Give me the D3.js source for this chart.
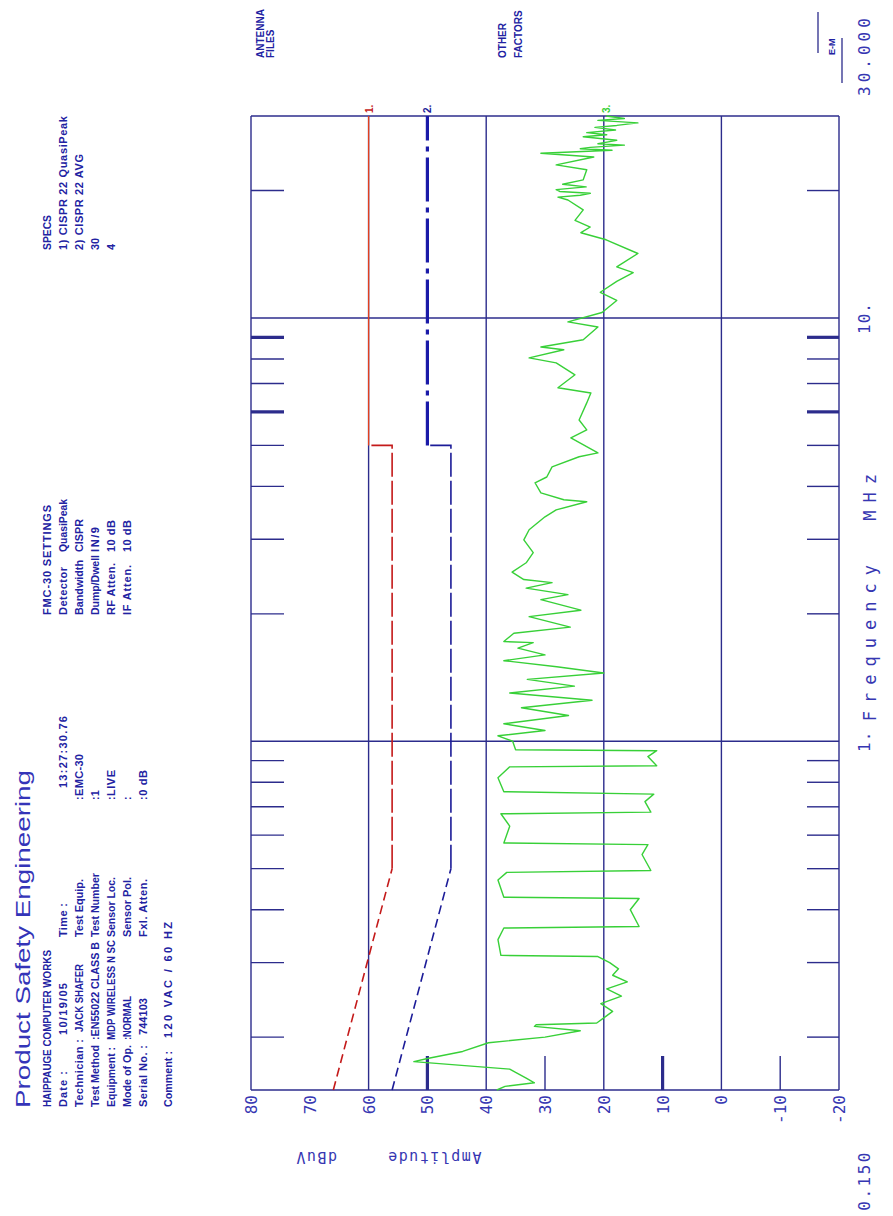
<!DOCTYPE html>
<html>
<head>
<meta charset="utf-8">
<script src="https://cdn.jsdelivr.net/npm/d3@7"></script>
<style>
  html, body { margin: 0; padding: 0; background: #ffffff; }
  svg { display: block; }
</style>
</head>
<body>
<svg id="chart" width="893" height="1216"></svg>
<script>
// ---- data -----------------------------------------------------------------
const freqDomain = [0.15, 30];          // MHz
const ampDomain = [80, -20];            // dBuV
const freqGrid = [1, 10];
const freqMinorTicks = [0.2, 0.3, 0.4, 0.5, 0.6, 0.7, 0.8, 0.9, 2, 3, 4, 5, 6, 7, 8, 9, 20];
const freqHeavyTicks = [6, 9];
const freqTickValues = [0.15, 1, 10, 30];
const freqTickLabels = ["0.150", "1.", "10.", "30.000"];
const ampGrid = [80, 60, 40, 20, 0, -20];
const ampTickValues = [80, 70, 60, 50, 40, 30, 20, 10, 0, -10, -20];
const ampMinorTicks = [50, 30, 10, -10];
const ampHeavyTicks = [50, 10];

// CISPR 22 class B limits
const qpLimitFreq = [0.15, 0.5, 5, 5, 30];
const qpLimitDb   = [66, 56, 56, 60, 60];
const avLimitFreq = [0.15, 0.5, 5, 5, 30];
const avLimitDb   = [56, 46, 46, 50, 50];

// measured peak scan
const scanFreq = [
  0.150, 0.153, 0.156, 0.160, 0.165, 0.168, 0.171, 0.175, 0.178, 0.185,
  0.194, 0.200, 0.207, 0.212, 0.214, 0.216, 0.222, 0.230, 0.240, 0.250,
  0.260, 0.270, 0.280, 0.290, 0.300, 0.310, 0.312, 0.340, 0.362, 0.365,
  0.400, 0.425, 0.428, 0.470, 0.490, 0.495, 0.540, 0.570, 0.575, 0.630,
  0.674, 0.680, 0.720, 0.750, 0.760, 0.820, 0.870, 0.875, 0.920, 0.950,
  0.955, 1.00, 1.03, 1.06, 1.10, 1.15, 1.20, 1.25, 1.30, 1.35,
  1.40, 1.45, 1.50, 1.55, 1.60, 1.66, 1.71, 1.72, 1.80, 1.86,
  1.97, 2.04, 2.16, 2.22, 2.30, 2.37, 2.41, 2.51, 2.64, 2.79,
  2.99, 3.16, 3.39, 3.52, 3.68, 3.72, 3.86, 4.08, 4.21, 4.45,
  4.70, 4.80, 5.21, 5.44, 5.74, 6.30, 6.65, 6.84, 7.34, 7.83,
  8.05, 8.41, 8.54, 8.88, 9.52, 9.79, 10.3, 11.0, 11.5, 12.2,
  12.8, 13.2, 14.2, 15.3, 15.9, 16.4, 17.0, 18.0, 19.0, 19.3,
  19.5, 19.7, 19.9, 20.1, 20.4, 20.7, 21.2, 22.4, 23.0, 24.0,
  24.5, 24.9, 25.1, 25.3, 25.6, 25.8, 26.1, 26.3, 26.8, 27.1,
  27.4, 27.8, 28.2, 28.5, 28.9, 29.3, 29.6, 30.0
];
const scanDb = [
  38.2, 36.8, 31.8, 33.2, 35.0, 36.0, 43.1, 52.3, 50.0, 44.0,
  39.6, 30.0, 24.0, 31.8, 31.5, 21.2, 20.0, 18.5, 20.5, 17.0,
  19.5, 16.0, 18.5, 17.5, 19.0, 21.0, 37.5, 38.0, 37.0, 14.0,
  15.5, 14.0, 37.0, 38.0, 36.5, 12.0, 13.5, 12.5, 37.0, 36.0,
  37.5, 12.0, 13.0, 11.5, 37.0, 38.0, 36.0, 11.0, 12.5, 11.0,
  35.0, 35.5, 38.0, 30.0, 37.0, 26.0, 34.0, 22.0, 36.0, 25.0,
  33.0, 20.0, 28.0, 37.0, 30.0, 34.6, 32.0, 37.0, 35.3, 25.7,
  32.7, 23.9, 30.7, 26.1, 33.2, 28.8, 33.6, 35.6, 33.2, 32.0,
  33.6, 32.7, 30.0, 28.1, 22.9, 26.8, 30.7, 31.7, 29.7, 28.8,
  24.2, 21.0, 25.6, 22.9, 24.2, 22.9, 22.2, 27.8, 24.9, 28.1,
  32.7, 26.8, 30.7, 23.5, 21.0, 26.1, 20.3, 17.8, 20.6, 17.8,
  15.0, 17.8, 14.2, 19.6, 23.9, 22.3, 24.9, 23.5, 26.1, 27.8,
  24.0, 22.3, 27.5, 28.1, 23.0, 27.0, 23.5, 22.9, 28.1, 21.7,
  30.7, 18.6, 24.0, 22.3, 16.5, 21.0, 19.0, 17.8, 23.5, 19.5,
  22.9, 18.0, 21.5, 17.8, 14.2, 21.0, 16.5, 19.6
];

// header block: [row, column start, text, printed width]
const headerItems = [
  [0, 109, "HAIPPAUGE COMPUTER WORKS", 157], [0, 601, "FMC-30 SETTINGS", 110], [0, 966, "SPECS", 35],
  [1, 109, "Date :", 36], [1, 181, "10/19/05", 52], [1, 279, "Time :", 34], [1, 428, "13:27:30.76", 72],
  [1, 601, "Detector", 48], [1, 664, "QuasiPeak", 53], [1, 966, "1) CISPR 22 QuasiPeak", 134],
  [2, 109, "Technician :", 68], [2, 184, "JACK SHAFER", 68], [2, 279, "Test Equip.", 58], [2, 416, ":EMC-30", 46],
  [2, 601, "Bandwidth", 55], [2, 664, "CISPR", 33], [2, 966, "2) CISPR 22 AVG", 96],
  [3, 109, "Test Method", 62], [3, 176, ":EN55022 CLASS B", 98], [3, 279, "Test Number", 64], [3, 416, ":1", 10],
  [3, 601, "Dump/Dwell", 60], [3, 664, "IN/9", 25], [3, 966, "30", 12],
  [4, 109, "Equipment :", 60], [4, 176, "MDP WIRELESS N SC", 100], [4, 279, "Sensor Loc.", 60], [4, 416, ":LIVE", 30],
  [4, 601, "RF Atten.", 52], [4, 664, "10 dB", 32], [4, 966, "4", 6],
  [5, 109, "Mode of Op.", 62], [5, 176, ":NORMAL", 44], [5, 279, "Sensor Pol.", 60], [5, 416, ":", 3],
  [5, 601, "IF Atten.", 50], [5, 664, "10 dB", 32],
  [6, 109, "Serial No. :", 62], [6, 181, "744103", 37], [6, 279, "Fxl. Atten.", 58], [6, 416, ":0 dB", 30],
  [7, 109, "Comment :", 56], [7, 178, "120 VAC / 60 HZ", 116]
];
const headerRowBaseline = [51, 67, 83, 99, 115, 131, 147, 172];
const titleText = "Product Safety Engineering";

// ---- drawing --------------------------------------------------------------
const NAVY = "#2c2c8c";
const TEXT = "#2222a2";
const LABEL = "#3636b2";

const svg = d3.select("#chart");
svg.append("rect").attr("width", 893).attr("height", 1216).attr("fill", "#ffffff");

// the sheet is printed in landscape, turned a quarter turn
const g = svg.append("g").attr("transform", "translate(0,1216) rotate(-90)");

const x = d3.scaleLog().domain(freqDomain).range([126, 1100]);
const y = d3.scaleLinear().domain(ampDomain).range([251, 839]);

// grid: amplitude lines
g.append("g").selectAll("line").data(ampGrid).join("line")
  .attr("x1", x(freqDomain[0])).attr("x2", x(freqDomain[1]))
  .attr("y1", d => y(d)).attr("y2", d => y(d))
  .attr("stroke", NAVY).attr("stroke-width", 1.4);

// grid: frequency lines (plus the frame ends)
g.append("g").selectAll("line").data([freqDomain[0], ...freqGrid, freqDomain[1]]).join("line")
  .attr("x1", d => x(d)).attr("x2", d => x(d))
  .attr("y1", y(ampDomain[0])).attr("y2", y(ampDomain[1]))
  .attr("stroke", NAVY).attr("stroke-width", 1.4);

// short frequency ticks along both long sides of the frame
const ftick = g.append("g");
[[y(ampDomain[0]), y(ampDomain[0]) + 33], [y(ampDomain[1]) - 32, y(ampDomain[1])]].forEach(([a, b]) => {
  ftick.append("g").selectAll("line").data(freqMinorTicks).join("line")
    .attr("x1", d => x(d)).attr("x2", d => x(d))
    .attr("y1", a).attr("y2", b)
    .attr("stroke", NAVY)
    .attr("stroke-width", d => freqHeavyTicks.includes(d) ? 3.2 : 1.4);
});

// short amplitude ticks rising from the low-frequency edge
g.append("g").selectAll("line").data(ampMinorTicks).join("line")
  .attr("x1", x(freqDomain[0])).attr("x2", x(freqDomain[0]) + 34)
  .attr("y1", d => y(d)).attr("y2", d => y(d))
  .attr("stroke", NAVY)
  .attr("stroke-width", d => ampHeavyTicks.includes(d) ? 3.2 : 1.4);

// amplitude tick labels
const tickFont = "'DejaVu Sans Mono', monospace";
g.append("g").selectAll("text").data(ampTickValues).join("text")
  .attr("x", x(freqDomain[0]) - 5)
  .attr("y", d => y(d) + 6)
  .attr("text-anchor", "end")
  .attr("font-family", tickFont).attr("font-size", 16)
  .attr("fill", LABEL)
  .text(d => d);

// amplitude axis title, read along the axis
[["dBuV", 316], ["Amplitude", 434]].forEach(([s, c]) => {
  g.append("text")
    .attr("transform", `translate(64,${c}) rotate(-90)`)
    .attr("text-anchor", "middle")
    .attr("font-family", tickFont).attr("font-size", 15)
    .attr("letter-spacing", 1.5)
    .attr("fill", LABEL)
    .text(s);
});

// frequency tick labels
const fl = g.append("g").attr("font-family", tickFont).attr("font-size", 16).attr("fill", LABEL);
freqTickValues.forEach((v, i) => {
  let anchor = "middle", px = x(v), ls = 1;
  if (i === 0) { anchor = "end"; px = 66; ls = 2.5; }
  if (i === freqTickValues.length - 1) { anchor = "start"; px = x(v) + 20; ls = 4; }
  fl.append("text").attr("x", px).attr("y", 870)
    .attr("text-anchor", anchor)
    .attr("letter-spacing", ls)
    .text(freqTickLabels[i]);
});
g.append("text")
  .attr("x", x(1) + 20).attr("y", 876)
  .attr("font-family", tickFont).attr("font-size", 17)
  .attr("letter-spacing", 8)
  .attr("fill", LABEL)
  .attr("xml:space", "preserve")
  .text("Frequency  MHz");

// limit lines
const line = d3.line().x(d => x(d[0])).y(d => y(d[1]));
const seg = (fs, ds, i0, i1) => d3.range(i0, i1 + 1).map(i => [fs[i], ds[i]]);

// quasi-peak limit (1)
g.append("path").attr("d", line(seg(qpLimitFreq, qpLimitDb, 0, 1)))
  .attr("fill", "none").attr("stroke", "#c41a1a").attr("stroke-width", 1.6).attr("stroke-dasharray", "9,5");
g.append("path").attr("d", line(seg(qpLimitFreq, qpLimitDb, 1, 3)))
  .attr("fill", "none").attr("stroke", "#c41a1a").attr("stroke-width", 1.6).attr("stroke-dasharray", "24,4");
g.append("path").attr("d", line(seg(qpLimitFreq, qpLimitDb, 3, 4)))
  .attr("fill", "none").attr("stroke", "#e2401e").attr("stroke-width", 1.3);

// average limit (2)
g.append("path").attr("d", line(seg(avLimitFreq, avLimitDb, 0, 1)))
  .attr("fill", "none").attr("stroke", "#1c1c98").attr("stroke-width", 1.6).attr("stroke-dasharray", "9,5");
g.append("path").attr("d", line(seg(avLimitFreq, avLimitDb, 1, 3)))
  .attr("fill", "none").attr("stroke", "#1c1c98").attr("stroke-width", 1.6).attr("stroke-dasharray", "24,4");
g.append("path").attr("d", line(seg(avLimitFreq, avLimitDb, 3, 4)))
  .attr("fill", "none").attr("stroke", "#1a1aa8").attr("stroke-width", 3.2).attr("stroke-dasharray", "44,6,5,6");

// measured trace (3)
const scan = scanFreq.map((f, i) => [f, scanDb[i]]);
g.append("path").attr("d", line(scan))
  .attr("fill", "none").attr("stroke", "#38d038").attr("stroke-width", 1.4)
  .attr("stroke-linejoin", "round");

// trace markers at the high-frequency end
const markers = [
  { label: "1.", db: qpLimitDb[qpLimitDb.length - 1], color: "#c41a1a" },
  { label: "2.", db: avLimitDb[avLimitDb.length - 1], color: "#1c1c98" },
  { label: "3.", db: scanDb[scanDb.length - 1], color: "#38d038" }
];
g.append("g").selectAll("text").data(markers).join("text")
  .attr("x", x(freqDomain[1]) + 3).attr("y", d => y(d.db) + 4)
  .attr("font-family", "'Liberation Sans', sans-serif").attr("font-size", 10).attr("font-weight", "bold")
  .attr("fill", d => d.color)
  .text(d => d.label);

// title and header block
g.append("text").attr("x", 108).attr("y", 30)
  .attr("font-family", "'Liberation Sans', sans-serif").attr("font-size", 21)
  .attr("textLength", 338).attr("lengthAdjust", "spacingAndGlyphs")
  .attr("fill", "#3434b8").text(titleText);

const hdr = g.append("g")
  .attr("font-family", "'Liberation Sans Narrow', 'Liberation Sans', sans-serif")
  .attr("font-size", 11).attr("font-weight", "bold").attr("fill", TEXT);
headerItems.forEach(([r, u, s, w]) => {
  const t = hdr.append("text").attr("x", u).attr("y", headerRowBaseline[r]).text(s);
  if (s.length > 1) {
    // squeeze long entries, only open up the spacing of short ones
    const natural = t.node().getComputedTextLength();
    t.attr("textLength", w).attr("lengthAdjust", natural > w ? "spacingAndGlyphs" : "spacing");
  }
});

// side notes beyond the high-frequency end
const side = g.append("g")
  .attr("font-family", "'Liberation Sans Narrow', 'Liberation Sans', sans-serif")
  .attr("font-size", 10).attr("font-weight", "bold").attr("fill", TEXT);
side.append("text").attr("x", 1158).attr("y", 264).text("ANTENNA");
side.append("text").attr("x", 1158).attr("y", 274).text("FILES");
side.append("text").attr("x", 1158).attr("y", 506).text("OTHER");
side.append("text").attr("x", 1158).attr("y", 522).text("FACTORS");
side.append("text").attr("x", 1161).attr("y", 835).attr("font-size", 9).text("E-M");
side.append("line").attr("x1", 1163).attr("x2", 1204).attr("y1", 818).attr("y2", 818)
  .attr("stroke", NAVY).attr("stroke-width", 1.3);
side.append("line").attr("x1", 1133).attr("x2", 1178).attr("y1", 842).attr("y2", 842)
  .attr("stroke", NAVY).attr("stroke-width", 1.3);
</script>
</body>
</html>
